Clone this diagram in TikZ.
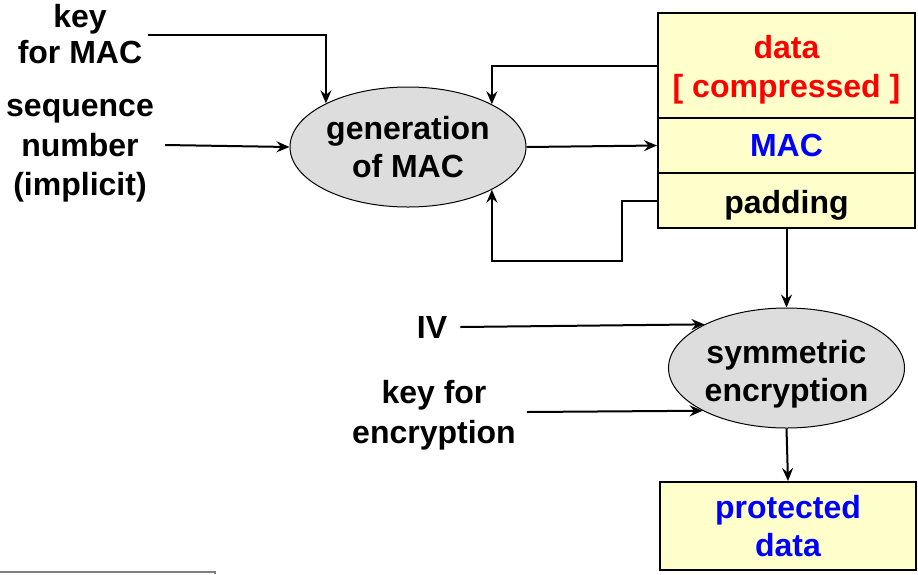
\documentclass[tikz,border=0pt]{standalone}
\usepackage{fontspec}
\setmainfont{Liberation Sans}
\usetikzlibrary{arrows.meta,shapes.geometric}
\definecolor{boxyellow}{HTML}{FFFFCC}
\definecolor{ellgray}{HTML}{DDDDDD}
\definecolor{txtred}{HTML}{FF0000}
\definecolor{txtblue}{HTML}{0000FF}
\definecolor{rulegray}{HTML}{808080}
\begin{document}
\begin{tikzpicture}[x=1pt,y=-1pt,
  lbl/.style={font=\fontsize{32}{38}\selectfont\bfseries, align=center, inner sep=0pt},
  proc/.style={lbl, ellipse, draw, line width=1pt, fill=ellgray, minimum width=236pt, minimum height=120pt},
  cell/.style={lbl, rectangle, draw, line width=2pt, fill=boxyellow, minimum width=257pt},
  conn/.style={line width=2pt, -{Stealth[length=13pt,width=11pt,inset=4.5pt]}}
]
\useasboundingbox (0,0) rectangle (918,574);

% left inputs
\node[lbl, font=\fontsize{32}{36}\selectfont\bfseries, inner xsep=6pt] (kmac) at (80,34.5) {key\\for MAC};
\node[lbl, font=\fontsize{32}{39.5}\selectfont\bfseries, inner xsep=11pt] (seq) at (80,151) {sequence\\number\\(implicit)};

% MAC generation
\node[proc] (gen) at (408,147) {generation\\of MAC};

% record box
\node[cell, minimum height=105pt,
  label={[lbl, text=txtred, font=\fontsize{32}{39}\selectfont\bfseries, yshift=-4pt]center:data\\{[ compressed ]}}] (data) at (786.5,65.5) {};
\node[cell, minimum height=55pt, text=txtblue] (mac) at (786.5,145.5) {MAC};
\node[cell, minimum height=55pt, label={[lbl, yshift=-5pt]center:padding}] (pad) at (786.5,200.5) {};

% encryption
\node[proc, label={[lbl, yshift=-6pt]center:symmetric\\encryption}] (enc) at (786.5,368) {};
\node[lbl, inner xsep=13pt] (iv) at (432,327) {IV};
\node[lbl, font=\fontsize{32}{40}\selectfont\bfseries, inner xsep=11pt] (kenc) at (434,415) {key for\\encryption};

% output
\node[cell, minimum width=256pt, minimum height=88pt, text=txtblue] (prot) at (788,526) {protected\\data};

% connectors
\draw[conn] (kmac.east) -| (gen.152.6);
\draw[conn] ([yshift=6pt]seq.east) -- (gen.west);
\draw[conn] (gen.east) -- (mac.west);
\draw[conn] (data.west) -| (gen.27.4);
\draw[conn] (pad.west) -- ++(-35,0) -- ++(0,60) -| (gen.-27.4);
\draw[conn] (pad.south) -- (enc.north);
\draw[conn] (iv.east) -- (enc.152.6);
\draw[conn] ([yshift=3pt]kenc.east) -- (enc.207.4);
\draw[conn] (enc.south) -- (prot.north);

% footer rule
\draw[rulegray, line width=1.5pt] (0,572) -- (215,572) -- (215,574);
\end{tikzpicture}
\end{document}
